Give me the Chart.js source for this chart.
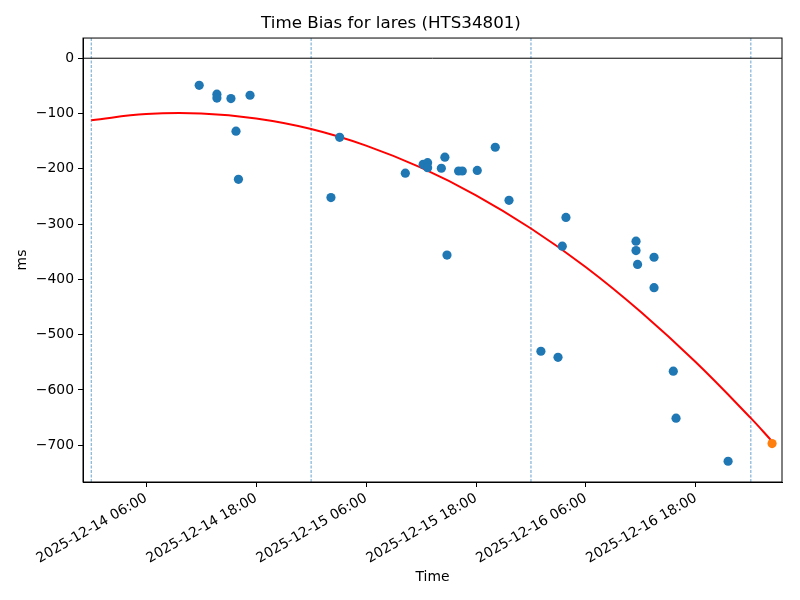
<!DOCTYPE html>
<html>
<head>
<meta charset="utf-8">
<script src="https://cdn.jsdelivr.net/npm/chart.js@4"></script>
<style>
  body { margin: 0; background: #fff; }
</style>
</head>
<body>
<canvas id="biasCanvas" width="800" height="600"></canvas>
<script>
// measured time bias per pass
const pointTimes = [
  "2025-12-14 11:47", "2025-12-14 13:43", "2025-12-14 13:43", "2025-12-14 15:15",
  "2025-12-14 15:48", "2025-12-14 16:04", "2025-12-14 17:20", "2025-12-15 02:10",
  "2025-12-15 03:07", "2025-12-15 10:17", "2025-12-15 12:14", "2025-12-15 12:43",
  "2025-12-15 12:43", "2025-12-15 14:13", "2025-12-15 14:36", "2025-12-15 14:50",
  "2025-12-15 16:06", "2025-12-15 16:30", "2025-12-15 18:08", "2025-12-15 20:06",
  "2025-12-15 21:36", "2025-12-16 01:05", "2025-12-16 02:57", "2025-12-16 03:25",
  "2025-12-16 03:49", "2025-12-16 11:28", "2025-12-16 11:28", "2025-12-16 11:38",
  "2025-12-16 13:26", "2025-12-16 13:26", "2025-12-16 15:32", "2025-12-16 15:50",
  "2025-12-16 21:31"
]
const biasMs = [
  -49, -65, -72, -73,
  -132, -219, -67, -252,
  -143, -208, -192, -189,
  -198, -199, -179, -356,
  -204, -204, -203, -161,
  -257, -530, -541, -340,
  -288, -331, -348, -373,
  -360, -415, -566, -651,
  -729
]

// red fit curve
const fitTimes = [
  "2025-12-14 00:00", "2025-12-14 06:00", "2025-12-14 12:00", "2025-12-14 18:00",
  "2025-12-15 00:00", "2025-12-15 06:00", "2025-12-15 12:00", "2025-12-15 18:00",
  "2025-12-16 00:00", "2025-12-16 06:00", "2025-12-16 12:00", "2025-12-16 18:00",
  "2025-12-17 00:00", "2025-12-17 02:19"
]
const fitMs = [-112, -101, -100, -109, -128, -158, -198, -248, -308, -378, -459, -550, -651, -693]

// latest point (orange)
const latestTime = "2025-12-17 02:19"
const latestMs = -697

const dayLines = ["2025-12-14 00:00", "2025-12-15 00:00", "2025-12-16 00:00", "2025-12-17 00:00"]

const xTickLabels = [
  "2025-12-14 06:00", "2025-12-14 18:00", "2025-12-15 06:00",
  "2025-12-15 18:00", "2025-12-16 06:00", "2025-12-16 18:00"
]
const yTicks = [0, -100, -200, -300, -400, -500, -600, -700]

const xMin = "2025-12-13 23:06"
const xMax = "2025-12-17 03:24"
const yMin = -766.5
const yMax = 36.5

function ts(s) {
    return Date.parse(s.replace(' ', 'T') + ':00Z')
}

Chart.defaults.font.family = "'DejaVu Sans', sans-serif"
Chart.defaults.color = '#000'

const frame = {
    id: 'frame',
    afterDatasetsDraw(chart) {
        const a = chart.chartArea
        const ctx = chart.ctx
        ctx.save()
        ctx.strokeStyle = '#000'
        ctx.lineWidth = 1
        ctx.strokeRect(a.left, a.top, a.right - a.left, a.bottom - a.top)
        ctx.restore()
    }
}

const dayDatasets = dayLines.map(d => ({
    type: 'line',
    data: [{x: ts(d), y: yMin}, {x: ts(d), y: yMax}],
    borderColor: 'rgba(31,119,180,0.85)',
    borderWidth: 0.8,
    borderDash: [3, 1.5],
    pointRadius: 0,
    showLine: true,
    order: 5
}))

const biasCanvas = document.getElementById('biasCanvas')

const biasChart = new Chart(biasCanvas, {
    type: 'scatter',
    data: {
        datasets: [
            {
                data: pointTimes.map((t, i) => ({x: ts(t), y: biasMs[i]})),
                backgroundColor: '#1f77b4',
                pointRadius: 4.6,
                pointBorderWidth: 0,
                order: 1
            },
            {
                data: [{x: ts(latestTime), y: latestMs}],
                backgroundColor: '#ff7f0e',
                pointRadius: 4.6,
                pointBorderWidth: 0,
                order: 0
            },
            {
                type: 'line',
                data: fitTimes.map((t, i) => ({x: ts(t), y: fitMs[i]})),
                borderColor: '#ff0000',
                borderWidth: 2,
                pointRadius: 0,
                showLine: true,
                tension: 0.4,
                order: 2
            },
            {
                type: 'line',
                data: [{x: ts(xMin), y: 0}, {x: ts(xMax), y: 0}],
                borderColor: '#000',
                borderWidth: 1,
                pointRadius: 0,
                showLine: true,
                order: 4
            },
            ...dayDatasets
        ]
    },
    options: {
        responsive: false,
        animation: false,
        devicePixelRatio: 1,
        layout: { padding: { left: 0, right: 18, top: 0, bottom: 0 } },
        plugins: {
            legend: { display: false },
            tooltip: { enabled: false },
            title: {
                display: true,
                text: 'Time Bias for lares (HTS34801)',
                font: { size: 16.7, weight: 'normal' },
                padding: { top: 14, bottom: 4 }
            }
        },
        scales: {
            x: {
                type: 'linear',
                min: ts(xMin),
                max: ts(xMax),
                afterBuildTicks: axis => {
                    axis.ticks = xTickLabels.map(s => ({value: ts(s)}))
                },
                afterFit: axis => { axis.height = 118 },
                ticks: {
                    autoSkip: false,
                    minRotation: 30,
                    maxRotation: 30,
                    padding: 3,
                    font: { size: 13.9 },
                    callback: (v, i) => xTickLabels[i]
                },
                grid: {
                    drawOnChartArea: false,
                    drawTicks: true,
                    tickLength: 5,
                    color: '#000'
                },
                border: { color: '#000', width: 1 },
                title: {
                    display: true,
                    text: 'Time',
                    font: { size: 13.9 },
                    padding: { top: 0, bottom: 14 }
                }
            },
            y: {
                min: yMin,
                max: yMax,
                afterBuildTicks: axis => {
                    axis.ticks = yTicks.map(v => ({value: v}))
                },
                afterFit: axis => { axis.width = 83 },
                ticks: {
                    padding: 4,
                    font: { size: 13.9 },
                    callback: v => v < 0 ? '\u2212' + Math.abs(v) : String(v)
                },
                grid: {
                    drawOnChartArea: false,
                    drawTicks: true,
                    tickLength: 5,
                    color: '#000'
                },
                border: { color: '#000', width: 1 },
                title: {
                    display: true,
                    text: 'ms',
                    font: { size: 13.9 },
                    padding: { top: 14, bottom: 0 }
                }
            }
        }
    },
    plugins: [frame]
})
</script>
</body>
</html>
